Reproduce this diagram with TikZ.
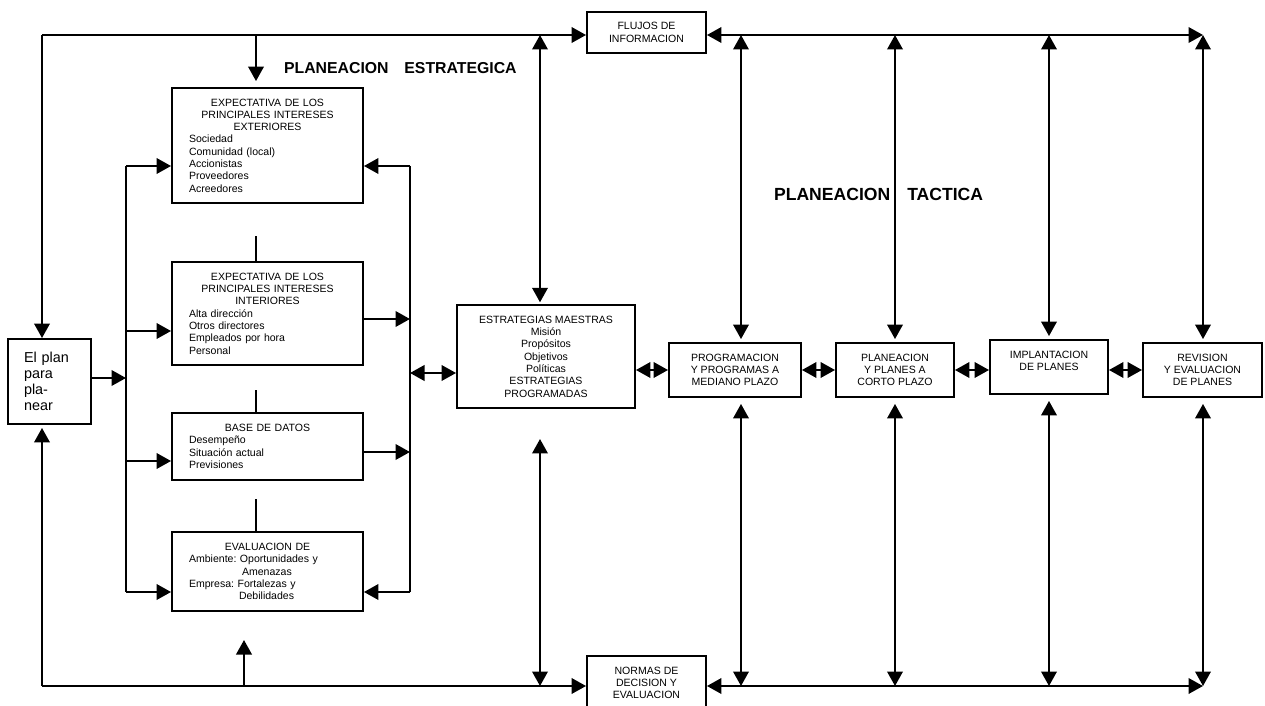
\documentclass[tikz,border=0pt]{standalone}
\usepackage{fontspec}
\setmainfont{Liberation Sans}
\usetikzlibrary{arrows.meta, positioning, calc}
\frenchspacing

\begin{document}
\begin{tikzpicture}[x=0.02cm, y=-0.02cm, line width=1.25pt,
    >={Triangle[length=0.29cm, width=0.31cm]},
    caja/.style={draw, line width=1.1pt, inner sep=0pt, align=center, font=\fontsize{6}{7}\selectfont},
    lista/.style={caja, align=left, text width=3.14cm, inner xsep=0.34cm},
    titulo/.style={anchor=west, inner sep=0pt, font=\fontsize{9}{11}\selectfont\bfseries}]
      \useasboundingbox (0,0) rectangle (1265,706);

      \node[caja, align=left, text width=1.02cm, inner xsep=0.32cm, minimum height=1.70cm,
        font=\fontsize{8.2}{9.2}\selectfont] (plan) at (49.5,381.5) {El plan\\ para\\ pla-\\ near};

      \node[lista, minimum height=2.30cm] (ext) at (267.5,145.5)
        {{\centering EXPECTATIVA DE LOS\\ PRINCIPALES INTERESES\\ EXTERIORES\par}
         Sociedad\\ Comunidad (local)\\ Accionistas\\ Proveedores\\ Acreedores};
      \node[lista, minimum height=2.06cm] (int) at (267.5,313.5)
        {{\centering EXPECTATIVA DE LOS\\ PRINCIPALES INTERESES\\ INTERIORES\par}
         Alta dirección\\ Otros directores\\ Empleados por hora\\ Personal};
      \node[lista, minimum height=1.34cm] (dat) at (267.5,446.5)
        {{\centering BASE DE DATOS\par}
         Desempeño\\ Situación actual\\ Previsiones};
      \node[lista, minimum height=1.58cm] (eva) at (267.5,571.5)
        {{\centering EVALUACION DE\par}
         Ambiente: Oportunidades y\\ \hspace*{1.06cm}Amenazas\\ Empresa: Fortalezas y\\ \hspace*{1.0cm}Debilidades};

      \node[caja, minimum width=3.56cm, minimum height=2.06cm] (est) at (546,356.5)
        {ESTRATEGIAS MAESTRAS\\ Misión\\ Propósitos\\ Objetivos\\ Políticas\\ ESTRATEGIAS\\ PROGRAMADAS};
      \node[caja, minimum width=2.38cm, minimum height=0.82cm] (flujos) at (646.5,32.5) {FLUJOS DE\\ INFORMACION};
      \node[caja, minimum width=2.38cm, minimum height=1.08cm] (normas) at (646.5,683) {NORMAS DE\\ DECISION Y\\ EVALUACION};

      \node[caja, minimum width=2.64cm, minimum height=1.08cm] (prog) at (735,370) {PROGRAMACION\\ Y PROGRAMAS A\\ MEDIANO PLAZO};
      \node[caja, minimum width=2.36cm, minimum height=1.08cm] (corto) at (895,370) {PLANEACION\\ Y PLANES A\\ CORTO PLAZO};
      \node[caja, minimum width=2.36cm, minimum height=1.08cm] (impl) at (1049,367) {IMPLANTACION\\ DE PLANES\\ \mbox{}};
      \node[caja, minimum width=2.38cm, minimum height=1.08cm] (rev) at (1202.5,370) {REVISION\\ Y EVALUACION\\ DE PLANES};

      \node[titulo] (pe) at (283,68) {PLANEACION\hspace{9pt}ESTRATEGICA};
      \node[titulo, font=\fontsize{10}{12}\selectfont\bfseries] (pt) at (773,194) {PLANEACION\hspace{9.7pt}TACTICA};

      \coordinate (tl) at (42,35);
      \coordinate (tr) at (1203,35);
      \coordinate (bl) at (42,686);
      \coordinate (br) at (1203,686);

      \draw[->] (tl) -- (tl -| flujos.west);
      \draw[->] (tl) -- (tl |- plan.north);
      \draw[<->] (flujos.east |- tr) -- (tr);
      \draw[->] (bl) -- (bl -| normas.west);
      \draw[->, shorten >=1.7pt] (bl) -- (bl |- plan.south);
      \draw[<->] (normas.east |- br) -- (br);

      \coordinate (tx) at (256,35);
      \draw[->, shorten >=3.4pt] (tx) -- (tx |- ext.north);
      \draw (tx |- int.north) -- ++(0,-25);
      \draw (tx |- dat.north) -- ++(0,-22);
      \draw (tx |- eva.north) -- ++(0,-32);
      \coordinate (bx) at (244,686);
      \draw[->] (bx) -- ++(0,-46);

      \coordinate (lb1) at (126,166);
      \coordinate (lb2) at (126,331);
      \coordinate (lb3) at (126,461);
      \coordinate (lb4) at (126,592);
      \coordinate (lb0) at (126,378);
      \draw (lb1) -- (lb4);
      \foreach \i/\b in {1/ext, 2/int, 3/dat, 4/eva}
        \draw[->] (lb\i) -- (lb\i -| \b.west);
      \draw[->] (lb0 -| plan.east) -- (lb0);

      \coordinate (rb1) at (410,166);
      \coordinate (rb2) at (410,319);
      \coordinate (rb0) at (410,373);
      \coordinate (rb3) at (410,452);
      \coordinate (rb4) at (410,592);
      \draw (rb1) -- (rb4);
      \draw[->] (rb1) -- (rb1 -| ext.east);
      \draw[->] (rb4) -- (rb4 -| eva.east);
      \draw[->] (rb2 -| int.east) -- (rb2);
      \draw[->] (rb3 -| dat.east) -- (rb3);
      \draw[<->] (rb0) -- (rb0 -| est.west);

      \coordinate (ex) at (540,35);
      \coordinate (ey) at (540,686);
      \draw[<->, shorten >=1pt] (ex) -- (ex |- est.north);
      \draw[<->] (ey) -- ++(0,-247);

      \draw[<->] (est.east |- prog.west) -- (prog.west);
      \draw[<->] (prog.east) -- (corto.west);
      \draw[<->] (corto.east) -- (corto.east -| impl.west);
      \draw[<->] (rev.west -| impl.east) -- (rev.west);

      \foreach \cx/\b in {741/prog, 895/corto, 1049/impl, 1203/rev} {
        \draw[<->, shorten >=1.7pt] (\cx,35) -- (\cx,35 |- \b.north);
        \draw[<->, shorten >=3.4pt] (\cx,686) -- (\cx,686 |- \b.south);
      }
    \end{tikzpicture}
\end{document}
